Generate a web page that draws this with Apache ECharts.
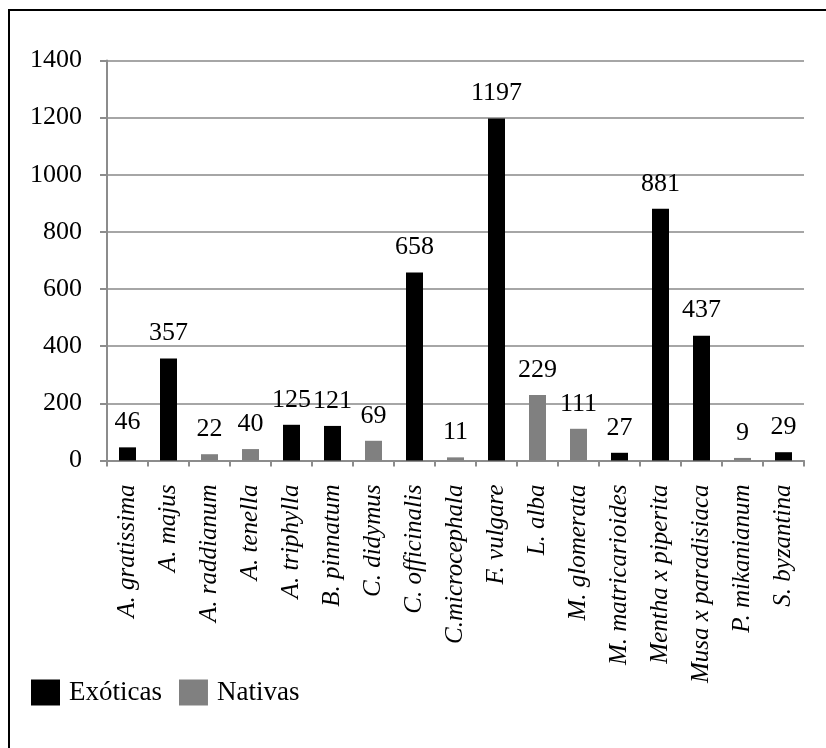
<!DOCTYPE html>
<html>
<head>
<meta charset="utf-8">
<script src="https://cdn.jsdelivr.net/npm/echarts@6/dist/echarts.min.js"></script>
<style>
  html, body { margin: 0; padding: 0; background: #fff; }
  #chart { width: 826px; height: 748px; }
</style>
</head>
<body>
<div id="chart"></div>
<script>
const categories = ['A. gratissima', 'A. majus', 'A. raddianum', 'A. tenella', 'A. triphylla',
  'B. pinnatum', 'C. didymus', 'C. officinalis', 'C.microcephala', 'F. vulgare', 'L. alba',
  'M. glomerata', 'M. matricarioides', 'Mentha x piperita', 'Musa x paradisiaca',
  'P. mikanianum', 'S. byzantina'];
const exoticas = [46, 357, '-', '-', 125, 121, '-', 658, '-', 1197, '-', '-', 27, 881, 437, '-', 29];
const nativas = ['-', '-', 22, 40, '-', '-', 69, '-', 11, '-', 229, 111, '-', '-', '-', 9, '-'];

const font = 'Liberation Serif';
const chart = echarts.init(document.getElementById('chart'));

const labelStyle = {
  show: true,
  position: 'top',
  distance: 12,
  color: '#000',
  fontFamily: font,
  fontSize: 26
};

chart.setOption({
  animation: false,
  graphic: [{
    type: 'rect',
    shape: {x: 9, y: 10, width: 900, height: 900},
    style: {fill: 'none', stroke: '#000', lineWidth: 2}
  }],
  grid: {left: 107, right: 22, top: 60.5, bottom: 287.5, containLabel: false},
  legend: {
    left: 26,
    top: 674,
    itemWidth: 29,
    itemHeight: 26,
    itemGap: 17,
    icon: 'rect',
    textStyle: {fontFamily: font, fontSize: 27, color: '#000', padding: [0, 0, 0, 4]},
    data: ['Exóticas', 'Nativas']
  },
  xAxis: {
    type: 'category',
    data: categories,
    axisLine: {lineStyle: {color: '#8c8c8c', width: 2}},
    axisTick: {show: true, length: 6, lineStyle: {color: '#8c8c8c', width: 2}},
    axisLabel: {
      rotate: 90,
      margin: 24,
      interval: 0,
      color: '#000',
      fontFamily: font,
      fontStyle: 'italic',
      fontSize: 25
    }
  },
  yAxis: {
    type: 'value',
    min: 0,
    max: 1400,
    interval: 200,
    axisLine: {show: true, lineStyle: {color: '#8c8c8c', width: 2}},
    axisTick: {show: true, length: 7, lineStyle: {color: '#8c8c8c', width: 2}},
    splitLine: {show: true, lineStyle: {color: '#a6a6a6', width: 2}},
    axisLabel: {
      margin: 25,
      color: '#000',
      fontFamily: font,
      fontSize: 26,
      formatter: v => String(v)
    }
  },
  series: [
    {
      name: 'Exóticas',
      type: 'bar',
      stack: 'total',
      barWidth: 17,
      itemStyle: {color: '#000'},
      label: labelStyle,
      data: exoticas
    },
    {
      name: 'Nativas',
      type: 'bar',
      stack: 'total',
      barWidth: 17,
      itemStyle: {color: '#808080'},
      label: labelStyle,
      data: nativas
    }
  ]
});
</script>
</body>
</html>
